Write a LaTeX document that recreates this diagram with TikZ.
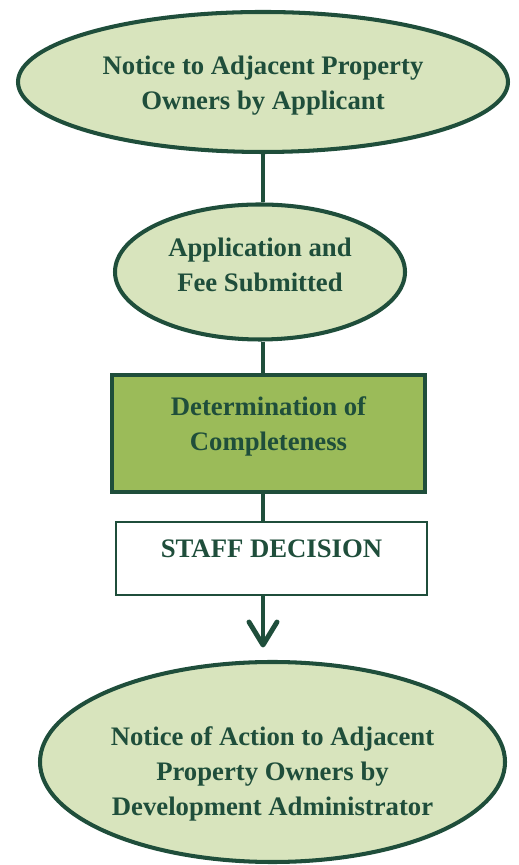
\documentclass[tikz,border=0pt]{standalone}
\usepackage{fontspec}
\setmainfont{Liberation Serif}
\usetikzlibrary{arrows.meta,positioning,shapes.geometric}
\definecolor{Forest}{HTML}{1F4E3B}
\definecolor{Sage}{HTML}{D8E4BD}
\definecolor{Olive}{HTML}{9BBB59}
\tikzset{
  linkline/.style={line width=2.8pt, draw=Forest},
  linkarrow/.style={-{Straight Barb[round,length=4.6mm,width=5.6mm]}, line width=2.8pt, draw=Forest},
  ovalnode/.style={ellipse, draw=Forest, fill=Sage, line width=2.3pt, align=center, inner sep=0pt, text=Forest, font=\fontsize{15.2}{20}\selectfont\bfseries},
  stagebox/.style={rectangle, draw=Forest, fill=Olive, line width=2.3pt, align=center, inner sep=0pt, text=Forest, font=\fontsize{15.2}{20}\selectfont\bfseries},
  decisionbox/.style={rectangle, draw=Forest, fill=white, line width=1.1pt, align=center, inner xsep=0pt, inner ysep=0pt, text=Forest, font=\fontsize{15.2}{20}\selectfont\bfseries},
}
\begin{document}
\begin{tikzpicture}[x=1cm,y=1cm]
\path[use as bounding box] (0,0) rectangle (10.36,17.3);

\node[ovalnode,minimum width=9.8cm,minimum height=2.8cm] (notice) at (5.26,15.66) {\rule{0pt}{0.53cm}Notice to Adjacent Property\\Owners by Applicant};
\node[ovalnode,minimum width=5.8cm,minimum height=2.7cm] (apply) at (5.2,11.86) {Application and\\Fee Submitted\rule[-0.29cm]{0pt}{0.29cm}};
\node[stagebox,minimum width=6.26cm,minimum height=2.34cm] (complete) at (5.37,8.63) {Determination of\\Completeness\rule[-0.4cm]{0pt}{0.4cm}};
\node[decisionbox,minimum width=6.22cm,text height=0.71cm,text depth=0.75cm] (staff) at (5.43,6.13) {STAFF DECISION};
\node[ovalnode,minimum width=9.3cm,minimum height=4.0cm] (action) at (5.45,2.06) {\rule{0pt}{0.85cm}Notice of Action to Adjacent\\Property Owners by\\Development Administrator};

\coordinate (spine) at (5.26,0);
\draw[linkline] (notice.south -| spine) -- (apply.north -| spine);
\draw[linkline] (apply.south -| spine) -- (complete.north -| spine);
\draw[linkline] (complete.south -| spine) -- (staff.north -| spine);
\draw[linkarrow,shorten >=0.25cm] (staff.south -| spine) -- (action.north -| spine);
\end{tikzpicture}
\end{document}
